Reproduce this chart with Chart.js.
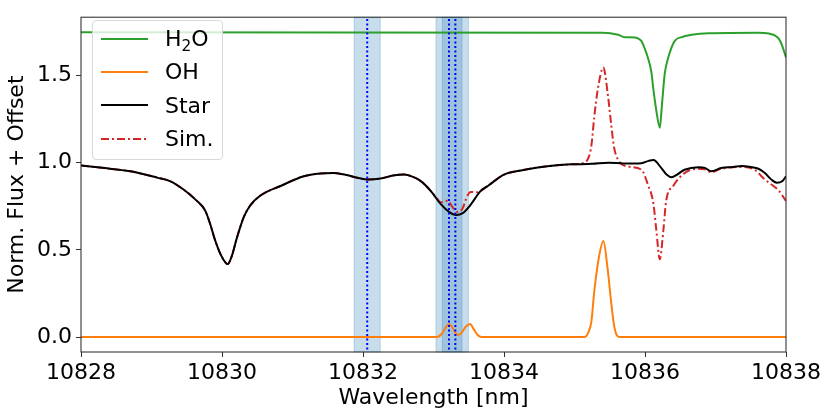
<!DOCTYPE html>
<html>
<head>
<meta charset="utf-8">
<script src="https://cdn.jsdelivr.net/npm/chart.js@4.4.0/dist/chart.umd.min.js"></script>
<style>
body { margin: 0; background: #fff; }
#wrap { position: relative; width: 831px; height: 419px; }
#legend {
    position: absolute; left: 92px; top: 20px; width: 131px; height: 140px;
    box-sizing: border-box; border: 1px solid #d9d9d9; border-radius: 4px;
    background: rgba(255, 255, 255, 0.8);
    font-family: 'DejaVu Sans'; font-size: 22px; color: #000;
}
.row { position: absolute; left: 0; height: 33px; display: flex; align-items: center; }
.row svg { margin-left: 8px; }
.row span { margin-left: 17px; white-space: nowrap; }
sub { font-size: 70%; vertical-align: -0.3em; line-height: 0; }
</style>
</head>
<body>
<div id="wrap">
    <canvas id="chart"></canvas>
    <div id="legend"></div>
</div>
<script>
const FONT = 'DejaVu Sans';

const seriesNames = ['H₂O', 'OH', 'Star', 'Sim.'];
const seriesColors = ['#2ca02c', '#ff7f0e', '#000000', '#d62728'];
const seriesDash = [[], [], [], [8, 3, 2, 3]];

const xTicks = [10828, 10830, 10832, 10834, 10836, 10838];
const yTicks = [0.0, 0.5, 1.0, 1.5];

// He I triplet (vacuum) lines and the half width of the shaded windows
const heLines = [10832.06, 10833.22, 10833.31];
const bandHalfWidth = 0.185;

const h2oX = [10828.00, 10835.40, 10835.62, 10835.71, 10835.85, 10835.95, 10835.99, 10836.04, 10836.09, 10836.12,
              10836.16, 10836.21, 10836.24, 10836.28, 10836.33, 10836.42, 10836.52, 10836.66, 10836.90, 10837.60,
              10837.76, 10837.84, 10837.90, 10837.94, 10838.00];
const h2oY = [1.747, 1.745, 1.733, 1.719, 1.718, 1.697, 1.660, 1.603, 1.520, 1.417,
              1.300, 1.200, 1.330, 1.510, 1.603, 1.697, 1.720, 1.733, 1.742, 1.745,
              1.740, 1.730, 1.710, 1.677, 1.603];

const ohX = [10828.00, 10833.05, 10833.12, 10833.18, 10833.22, 10833.26, 10833.31, 10833.35, 10833.40, 10833.46,
             10833.52, 10833.57, 10833.63, 10833.68, 10835.14, 10835.20, 10835.24, 10835.28, 10835.35, 10835.41,
             10835.47, 10835.52, 10835.56, 10835.60, 10835.64, 10838.00];
const ohY = [0.000, 0.000, 0.020, 0.060, 0.073, 0.060, 0.025, 0.012, 0.025, 0.060,
             0.075, 0.045, 0.010, 0.000, 0.000, 0.030, 0.090, 0.260, 0.465, 0.550,
             0.390, 0.200, 0.070, 0.010, 0.000, 0.000];

const starX = [10828.00, 10828.30, 10828.70, 10829.08, 10829.27, 10829.45, 10829.64, 10829.76, 10829.83, 10829.90,
               10829.98, 10830.05, 10830.08, 10830.14, 10830.21, 10830.31, 10830.40, 10830.54, 10830.83, 10831.16,
               10831.40, 10831.58, 10831.75, 10831.92, 10832.07, 10832.25, 10832.45, 10832.58, 10832.70, 10832.82,
               10832.96, 10833.10, 10833.22, 10833.32, 10833.42, 10833.52, 10833.67, 10833.77, 10834.00, 10834.24,
               10834.48, 10834.75, 10834.95, 10835.25, 10835.48, 10835.70, 10835.95, 10836.05, 10836.12, 10836.23,
               10836.31, 10836.38, 10836.45, 10836.56, 10836.76, 10836.85, 10836.94, 10837.08, 10837.25, 10837.37,
               10837.50, 10837.61, 10837.70, 10837.80, 10837.87, 10837.95, 10838.00];
const starY = [0.983, 0.970, 0.950, 0.914, 0.893, 0.847, 0.782, 0.726, 0.651, 0.558,
               0.474, 0.427, 0.418, 0.465, 0.567, 0.689, 0.754, 0.810, 0.866, 0.922,
               0.938, 0.941, 0.930, 0.913, 0.903, 0.909, 0.928, 0.932, 0.920, 0.894,
               0.838, 0.763, 0.718, 0.700, 0.712, 0.755, 0.838, 0.866, 0.931, 0.955,
               0.972, 0.985, 0.990, 0.993, 1.000, 0.995, 0.997, 1.010, 1.015, 0.970,
               0.930, 0.916, 0.930, 0.959, 0.974, 0.970, 0.950, 0.969, 0.975, 0.980,
               0.975, 0.965, 0.940, 0.900, 0.885, 0.895, 0.922];

const simX = [10828.00, 10828.30, 10828.70, 10829.08, 10829.27, 10829.45, 10829.64, 10829.76, 10829.83, 10829.90,
              10829.98, 10830.05, 10830.08, 10830.14, 10830.21, 10830.31, 10830.40, 10830.54, 10830.83, 10831.16,
              10831.40, 10831.58, 10831.75, 10831.92, 10832.07, 10832.25, 10832.45, 10832.58, 10832.70, 10832.82,
              10832.96, 10833.04, 10833.10, 10833.16, 10833.20, 10833.27, 10833.34, 10833.41, 10833.48, 10833.53,
              10833.62, 10833.67, 10833.77, 10834.00, 10834.24, 10834.48, 10834.75, 10834.95, 10835.14, 10835.20,
              10835.24, 10835.28, 10835.33, 10835.41, 10835.47, 10835.52, 10835.56, 10835.62, 10835.76, 10835.95,
              10836.04, 10836.12, 10836.16, 10836.21, 10836.26, 10836.30, 10836.40, 10836.56, 10836.76, 10836.85,
              10836.94, 10837.08, 10837.37, 10837.55, 10837.70, 10837.90, 10838.00];
const simY = [0.983, 0.970, 0.950, 0.914, 0.893, 0.847, 0.782, 0.726, 0.651, 0.558,
              0.474, 0.427, 0.418, 0.465, 0.567, 0.689, 0.754, 0.810, 0.866, 0.922,
              0.938, 0.941, 0.930, 0.913, 0.903, 0.909, 0.928, 0.932, 0.920, 0.894,
              0.838, 0.800, 0.773, 0.778, 0.782, 0.745, 0.717, 0.735, 0.810, 0.832,
              0.830, 0.838, 0.866, 0.931, 0.955, 0.972, 0.985, 0.990, 1.000, 1.030,
              1.100, 1.260, 1.420, 1.545, 1.400, 1.220, 1.090, 1.015, 0.978, 0.959,
              0.875, 0.763, 0.614, 0.446, 0.610, 0.780, 0.866, 0.940, 0.965, 0.962,
              0.945, 0.965, 0.975, 0.960, 0.903, 0.838, 0.780];

function toPoints(xs, ys) {
    return xs.map((x, i) => ({x: x, y: ys[i]}));
}

// legend sits inside the axes, matplotlib style, so it is plain html on top
function buildLegend() {
    const box = document.getElementById('legend');
    seriesNames.forEach((name, i) => {
        const row = document.createElement('div');
        row.className = 'row';
        row.style.top = (1 + i * 33.4) + 'px';
        const dash = seriesDash[i].length ? ' stroke-dasharray="' + seriesDash[i].join(',') + '"' : '';
        row.innerHTML = '<svg width="47" height="6"><line x1="0" y1="3" x2="47" y2="3" stroke="' +
            seriesColors[i] + '" stroke-width="2"' + dash + '/></svg>' +
            '<span>' + name.replace('₂', '<sub>2</sub>') + '</span>';
        box.appendChild(row);
    });
}

const bandPlugin = {
    id: 'bands',
    beforeDatasetsDraw(chart) {
        const {ctx, chartArea, scales} = chart;
        ctx.save();
        ctx.fillStyle = 'rgba(31, 119, 180, 0.25)';
        ctx.strokeStyle = 'rgba(31, 119, 180, 0.25)';
        ctx.lineWidth = 1;
        heLines.forEach(c => {
            const x0 = scales.x.getPixelForValue(c - bandHalfWidth);
            const x1 = scales.x.getPixelForValue(c + bandHalfWidth);
            const h = chartArea.bottom - chartArea.top;
            ctx.fillRect(x0, chartArea.top, x1 - x0, h);
            ctx.strokeRect(x0, chartArea.top, x1 - x0, h);
        });
        ctx.restore();
    }
};

const framePlugin = {
    id: 'frame',
    afterDraw(chart) {
        const {ctx, chartArea} = chart;
        ctx.save();
        ctx.strokeStyle = '#222';
        ctx.lineWidth = 1;
        ctx.strokeRect(chartArea.left, chartArea.top, chartArea.right - chartArea.left, chartArea.bottom - chartArea.top);
        ctx.restore();
    }
};

function lineSet(i, xs, ys, order) {
    return {
        label: seriesNames[i],
        data: toPoints(xs, ys),
        borderColor: seriesColors[i],
        borderWidth: 2,
        borderDash: seriesDash[i],
        pointRadius: 0,
        cubicInterpolationMode: 'monotone',
        order: order
    };
}

const datasets = [
    lineSet(0, h2oX, h2oY, 4),
    lineSet(1, ohX, ohY, 3),
    lineSet(2, starX, starY, 1),
    lineSet(3, simX, simY, 2)
];
heLines.forEach(c => {
    datasets.push({
        label: '',
        data: [{x: c, y: -1}, {x: c, y: 3}],
        borderColor: '#0000ff',
        borderWidth: 2,
        borderDash: [2, 2.5],
        pointRadius: 0,
        order: 0
    });
});

const tickFont = {family: FONT, size: 22};

new Chart(document.getElementById('chart'), {
    type: 'line',
    data: {datasets: datasets},
    plugins: [bandPlugin, framePlugin],
    options: {
        responsive: true,
        maintainAspectRatio: false,
        animation: false,
        layout: {padding: {top: 9, right: 45, bottom: 0, left: 0}},
        plugins: {
            legend: {display: false},
            tooltip: {enabled: false}
        },
        scales: {
            x: {
                type: 'linear',
                min: 10828,
                max: 10838,
                afterBuildTicks: s => { s.ticks = xTicks.map(v => ({value: v})); },
                afterFit: s => { s.height = 67; },
                ticks: {
                    callback: v => String(v),
                    font: tickFont,
                    color: '#000',
                    padding: 3,
                    maxRotation: 0,
                    autoSkip: false
                },
                grid: {drawOnChartArea: false, tickLength: 5, color: '#333', tickColor: '#333'},
                border: {display: false},
                title: {display: true, text: 'Wavelength [nm]', font: tickFont, color: '#000', padding: {top: 0, bottom: 8}}
            },
            y: {
                type: 'linear',
                min: -0.086,
                max: 1.834,
                afterBuildTicks: s => { s.ticks = yTicks.map(v => ({value: v})); },
                afterFit: s => { s.width = 81; },
                ticks: {
                    callback: v => v.toFixed(1),
                    font: tickFont,
                    color: '#000',
                    padding: 4
                },
                grid: {drawOnChartArea: false, tickLength: 5, color: '#333', tickColor: '#333'},
                border: {display: false},
                title: {display: true, text: 'Norm. Flux + Offset', font: tickFont, color: '#000', padding: {top: 4, bottom: 0}}
            }
        }
    }
});

buildLegend();
</script>
</body>
</html>
